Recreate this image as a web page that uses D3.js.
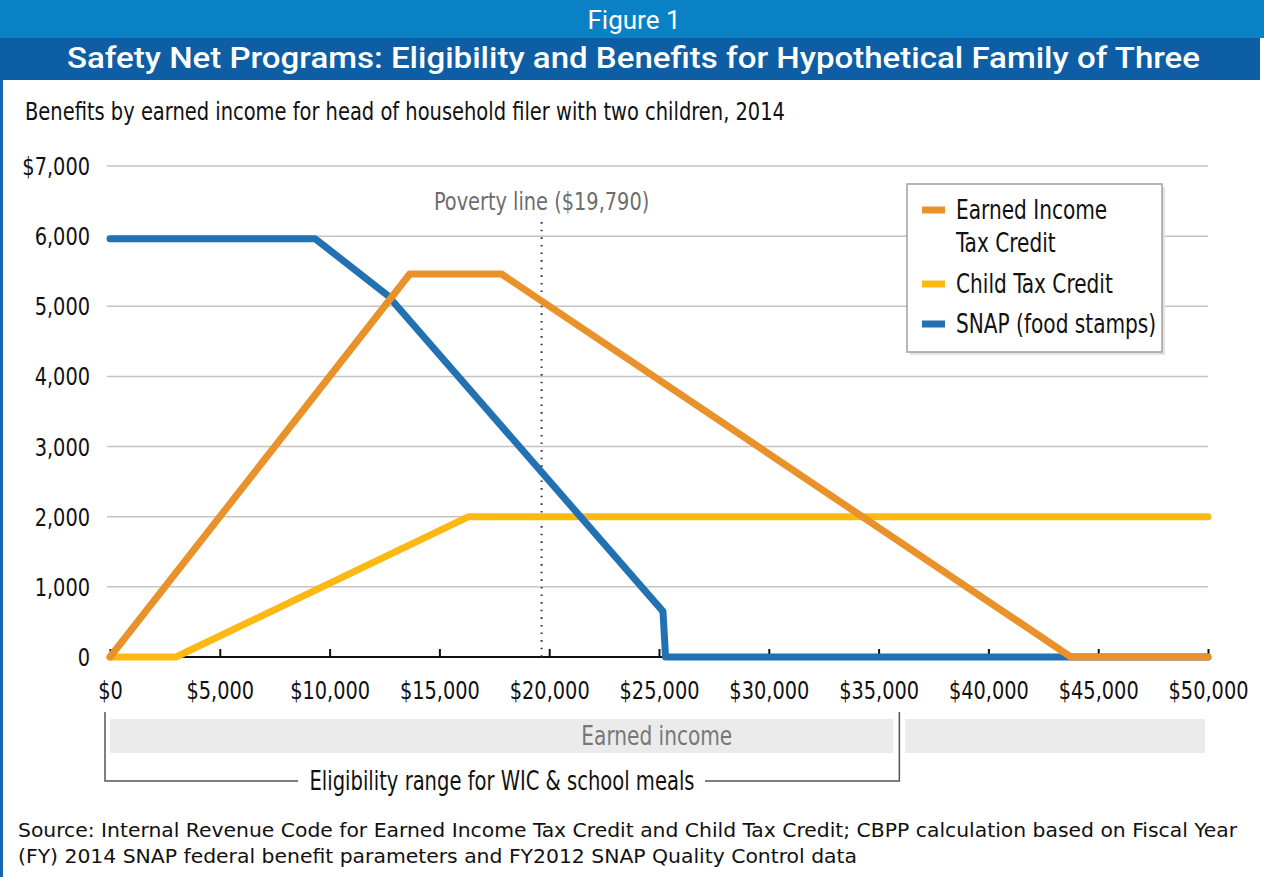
<!DOCTYPE html>
<html>
<head>
<meta charset="utf-8">
<script src="https://cdn.jsdelivr.net/npm/d3@7"></script>
<style>
  body { margin: 0; background: #fff; }
  text { font-family: "Liberation Sans Narrow", "DejaVu Sans Condensed", sans-serif; }
</style>
</head>
<body>
<div id="wrapper"></div>
<script>
// data (income in dollars, benefit in dollars/year)
const eitcIncome = [0, 13650, 17830, 43756, 50000]
const eitcBenefit = [0, 5460, 5460, 0, 0]

const ctcIncome = [0, 3000, 16333, 50000]
const ctcBenefit = [0, 0, 2000, 2000]

const snapIncome = [0, 9340, 12660, 25180, 25300, 50000]
const snapBenefit = [5964, 5964, 5150, 650, 0, 0]

const yTicks = [0, 1000, 2000, 3000, 4000, 5000, 6000, 7000]
const xTicks = [0, 5000, 10000, 15000, 20000, 25000, 30000, 35000, 40000, 45000, 50000]

const povertyLine = 19790
const wicLimit = 35900

const legendItems = [
    { label: ["Earned Income", "Tax Credit"], color: "#e9922a" },
    { label: ["Child Tax Credit"], color: "#fdb913" },
    { label: ["SNAP (food stamps)"], color: "#2271b3" },
]

const width = 1264
const height = 877
const dimensions = {
    width: width,
    height: height,
    margin: { top: 166, bottom: 220, left: 110, right: 56 }
}
dimensions.boundedWidth = dimensions.width - dimensions.margin.left - dimensions.margin.right
dimensions.boundedHeight = dimensions.height - dimensions.margin.top - dimensions.margin.bottom

const toPoints = (xs, ys) => xs.map((x, i) => ({ x: x, y: ys[i] }))

// squeeze text horizontally so it reads like a condensed face
function condense(sel, f) {
    sel.each(function () {
        const w = this.getComputedTextLength()
        d3.select(this).attr("textLength", w * f).attr("lengthAdjust", "spacingAndGlyphs")
    })
}
const squeeze = 0.86

const svg = d3.select("#wrapper").append("svg")
    .attr("width", dimensions.width)
    .attr("height", dimensions.height)

// header bands
svg.append("rect").attr("x", 0).attr("y", 0).attr("width", width).attr("height", 38).attr("fill", "#0a80c5")
svg.append("rect").attr("x", 0).attr("y", 38).attr("width", 1260).attr("height", 42).attr("fill", "#0e5ea6")
svg.append("rect").attr("x", 0).attr("y", 80).attr("width", 3).attr("height", height - 80).attr("fill", "#1666b1")

svg.append("text").text("Figure 1")
    .attr("x", 634).attr("y", 29)
    .attr("text-anchor", "middle")
    .style("font-family", "Roboto, sans-serif")
    .style("font-size", "26px")
    .style("fill", "#fff")

svg.append("text").text("Safety Net Programs: Eligibility and Benefits for Hypothetical Family of Three")
    .attr("x", 67).attr("y", 68)
    .attr("textLength", 1133).attr("lengthAdjust", "spacingAndGlyphs")
    .style("font-family", "Roboto, sans-serif")
    .style("font-weight", "500")
    .style("font-size", "29px")
    .style("fill", "#fff")

svg.append("text").text("Benefits by earned income for head of household filer with two children, 2014")
    .attr("x", 25).attr("y", 120)
    .attr("textLength", 760).attr("lengthAdjust", "spacingAndGlyphs")
    .style("font-size", "25px")
    .style("fill", "#111")

const bounded = svg.append("g")
    .attr("transform", `translate(${dimensions.margin.left},${dimensions.margin.top})`)

const xScale = d3.scaleLinear().domain([0, 50000]).range([0, 1098])
const yScale = d3.scaleLinear().domain([0, 7000]).range([dimensions.boundedHeight, 0])

// gridlines
bounded.selectAll(".grid").data(yTicks.filter(d => d > 0))
    .enter().append("line")
    .attr("x1", -3).attr("x2", xScale(50000))
    .attr("y1", d => yScale(d)).attr("y2", d => yScale(d))
    .style("stroke", "#c4c4c4").style("stroke-width", 1.5)

// y labels
bounded.selectAll(".ylab").data(yTicks)
    .enter().append("text")
    .text(d => (d === 7000 ? "$" : "") + d3.format(",")(d))
    .attr("x", -20).attr("y", d => yScale(d)).attr("dy", "0.36em")
    .attr("text-anchor", "end")
    .style("font-size", "25px")
    .style("fill", "#111")
    .call(condense, squeeze)

// x axis
const xAxis = d3.axisBottom(xScale).tickValues(xTicks).tickSize(-8).tickFormat(d => "$" + d3.format(",")(d))
const xAxisGroup = bounded.append("g")
    .attr("transform", `translate(0,${dimensions.boundedHeight})`)
    .call(xAxis)
xAxisGroup.select(".domain").attr("d", `M-3,0H${xScale(50000)}`).style("stroke", "#111").style("stroke-width", 2)
xAxisGroup.selectAll(".tick line").style("stroke", "#111").style("stroke-width", 2)
xAxisGroup.selectAll(".tick text")
    .attr("y", 42).attr("dy", 0)
    .style("font-family", "\"Liberation Sans Narrow\", \"DejaVu Sans Condensed\", sans-serif")
    .style("font-size", "25px")
    .style("fill", "#111")
    .call(condense, squeeze)

// poverty line
bounded.append("line")
    .attr("x1", xScale(povertyLine) - 3).attr("x2", xScale(povertyLine) - 3)
    .attr("y1", yScale(6200)).attr("y2", yScale(0))
    .style("stroke", "#333").style("stroke-width", 2)
    .style("stroke-dasharray", "1.6,6")
bounded.append("text").text("Poverty line ($19,790)")
    .attr("x", xScale(povertyLine) - 3).attr("y", yScale(6370))
    .attr("text-anchor", "middle")
    .style("font-size", "25px")
    .style("fill", "#6d6d6d")
    .call(condense, squeeze)

// lines
const lineGen = d3.line().x(d => xScale(d.x)).y(d => yScale(d.y))
const series = [
    { pts: toPoints(ctcIncome, ctcBenefit), color: legendItems[1].color },
    { pts: toPoints(snapIncome, snapBenefit), color: legendItems[2].color },
    { pts: toPoints(eitcIncome, eitcBenefit), color: legendItems[0].color },
]
bounded.selectAll(".series").data(series)
    .enter().append("path")
    .attr("d", d => lineGen(d.pts))
    .style("fill", "none")
    .style("stroke", d => d.color)
    .style("stroke-width", 7)
    .style("stroke-linejoin", "round")
    .style("stroke-linecap", "round")

// legend
const legend = svg.append("g").attr("transform", "translate(907,184)")
legend.append("rect").attr("x", 3).attr("y", 3).attr("width", 255).attr("height", 168).attr("fill", "#e2e2e2")
legend.append("rect").attr("width", 255).attr("height", 168).attr("fill", "#fff").style("stroke", "#a0a0a0").style("stroke-width", 1.5)
const legendRows = [26, 100, 140]
legend.selectAll(".sw").data(legendItems)
    .enter().append("line")
    .attr("x1", 15).attr("x2", 38)
    .attr("y1", (d, i) => legendRows[i]).attr("y2", (d, i) => legendRows[i])
    .style("stroke", d => d.color).style("stroke-width", 7)
const legendLines = []
legendItems.forEach((d, i) => d.label.forEach((t, j) => legendLines.push({ t: t, y: legendRows[i] + j * 33 })))
legend.selectAll(".lt").data(legendLines)
    .enter().append("text")
    .text(d => d.t)
    .attr("x", 49).attr("y", d => d.y).attr("dy", "0.36em")
    .style("font-size", "26px")
    .style("fill", "#111")
    .call(condense, squeeze)

// earned income bars
const barY = 719 - dimensions.margin.top
bounded.append("rect")
    .attr("x", xScale(0)).attr("y", barY)
    .attr("width", xScale(wicLimit) - 5).attr("height", 34)
    .attr("fill", "#ebebeb")
bounded.append("rect")
    .attr("x", xScale(wicLimit) + 7).attr("y", barY)
    .attr("width", xScale(49860) - xScale(wicLimit) - 7).attr("height", 34)
    .attr("fill", "#ebebeb")
bounded.append("text").text("Earned income")
    .attr("x", xScale(24900)).attr("y", barY + 17).attr("dy", "0.36em")
    .attr("text-anchor", "middle")
    .style("font-size", "26px")
    .style("fill", "#777")
    .call(condense, squeeze)

// eligibility bracket
const brY = 781 - dimensions.margin.top
const bx0 = xScale(0) - 5
const bx1 = xScale(wicLimit) + 1
bounded.append("path")
    .attr("d", `M${bx0},${712 - dimensions.margin.top}V${brY}H${188}`)
    .style("fill", "none").style("stroke", "#555").style("stroke-width", 1.5)
bounded.append("path")
    .attr("d", `M${595},${brY}H${bx1}V${712 - dimensions.margin.top}`)
    .style("fill", "none").style("stroke", "#555").style("stroke-width", 1.5)
bounded.append("text").text("Eligibility range for  WIC & school meals")
    .attr("x", 392).attr("y", brY).attr("dy", "0.36em")
    .attr("text-anchor", "middle")
    .attr("textLength", 385).attr("lengthAdjust", "spacingAndGlyphs")
    .style("font-size", "26px")
    .style("fill", "#111")

// source
svg.append("text").text("Source: Internal Revenue Code for Earned Income Tax Credit and Child Tax Credit; CBPP calculation based on Fiscal Year")
    .attr("x", 18).attr("y", 837)
    .attr("textLength", 1219).attr("lengthAdjust", "spacingAndGlyphs")
    .style("font-size", "20px")
    .style("fill", "#111")
svg.append("text").text("(FY) 2014 SNAP federal benefit parameters and FY2012 SNAP Quality Control data")
    .attr("x", 18).attr("y", 863)
    .attr("textLength", 839).attr("lengthAdjust", "spacingAndGlyphs")
    .style("font-size", "20px")
    .style("fill", "#111")
</script>
</body>
</html>
